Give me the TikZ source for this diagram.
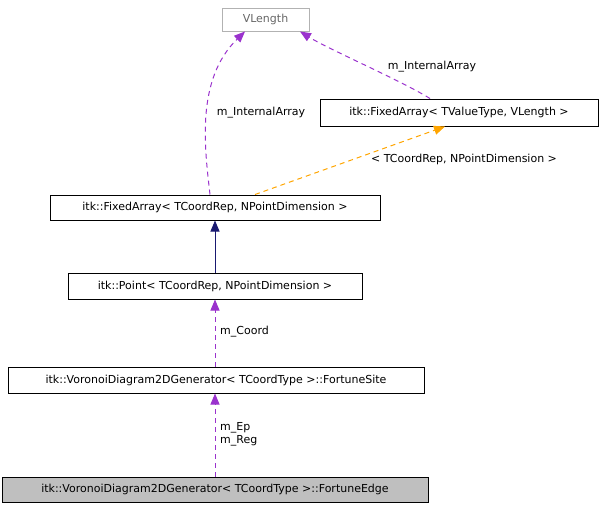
\documentclass[tikz,border=0pt]{standalone}
\usepackage{fontspec}
\setmainfont{DejaVu Sans}
\usetikzlibrary{arrows.meta}
\definecolor{purp}{HTML}{9A32CD}
\definecolor{navy}{HTML}{191970}
\definecolor{orng}{HTML}{FFA500}
\begin{document}
\begin{tikzpicture}[x=1pt,y=-1pt,
  box/.style={draw=black,line width=1pt,inner sep=0pt,font=\fontsize{11}{13}\selectfont,anchor=center},
  lbl/.style={font=\fontsize{11}{13}\selectfont,inner sep=1pt},
  dsh/.style={dash pattern=on 5pt off 4pt},
  dep/.style={purp,dsh,line width=1pt,-{Triangle[length=11pt,width=9pt]}},
  tmpl/.style={orng,dsh,line width=1pt,-{Triangle[length=11pt,width=9pt]}},
  inh/.style={navy,line width=1pt,-{Triangle[length=11pt,width=9pt]}}]
\useasboundingbox (0,0) rectangle (603,509);
\node[box,draw=gray!60,text=gray!80!black,minimum width=87,minimum height=23] (vl) at (265.5,19.5) {VLength};
\node[box,minimum width=278,minimum height=27] (fa2) at (459,112.5) {itk::FixedArray< TValueType, VLength >};
\node[box,minimum width=330,minimum height=25] (fa1) at (215,207.5) {itk::FixedArray< TCoordRep, NPointDimension >};
\node[box,minimum width=294,minimum height=26] (pt) at (215,286) {itk::Point< TCoordRep, NPointDimension >};
\node[box,minimum width=416,minimum height=26] (fs) at (216,380) {itk::VoronoiDiagram2DGenerator< TCoordType >::FortuneSite};
\node[box,fill=gray!50,minimum width=426,minimum height=25] (fe) at (215,489.5) {itk::VoronoiDiagram2DGenerator< TCoordType >::FortuneEdge};
\draw[dep] (fa1.north -| 210,0) .. controls (205,150) and (195,80) .. (vl.south -| 245,0);
\node[lbl] (l1) at (261,113) {m\_InternalArray};
\draw[dep] (fa2.north -| 430,0) .. controls (400,80) and (330,50) .. (vl.south -| 300,0);
\node[lbl] (l2) at (432,67) {m\_InternalArray};
\draw[tmpl] (fa1.north -| 255,0) -- (fa2.south -| 445,0);
\node[lbl] (l3) at (464,159) {< TCoordRep, NPointDimension >};
\draw[inh] (pt.north -| 215,0) -- (fa1.south -| 215,0);
\draw[dep] (fs.north -| 215,0) -- (pt.south -| 215,0);
\node[lbl,anchor=west] (l4) at (219,332) {m\_Coord};
\draw[dep] (fe.north -| 215,0) -- (fs.south -| 215,0);
\node[lbl,anchor=west,align=left] (l5) at (219,434) {m\_Ep\\m\_Reg};
\end{tikzpicture}
\end{document}
